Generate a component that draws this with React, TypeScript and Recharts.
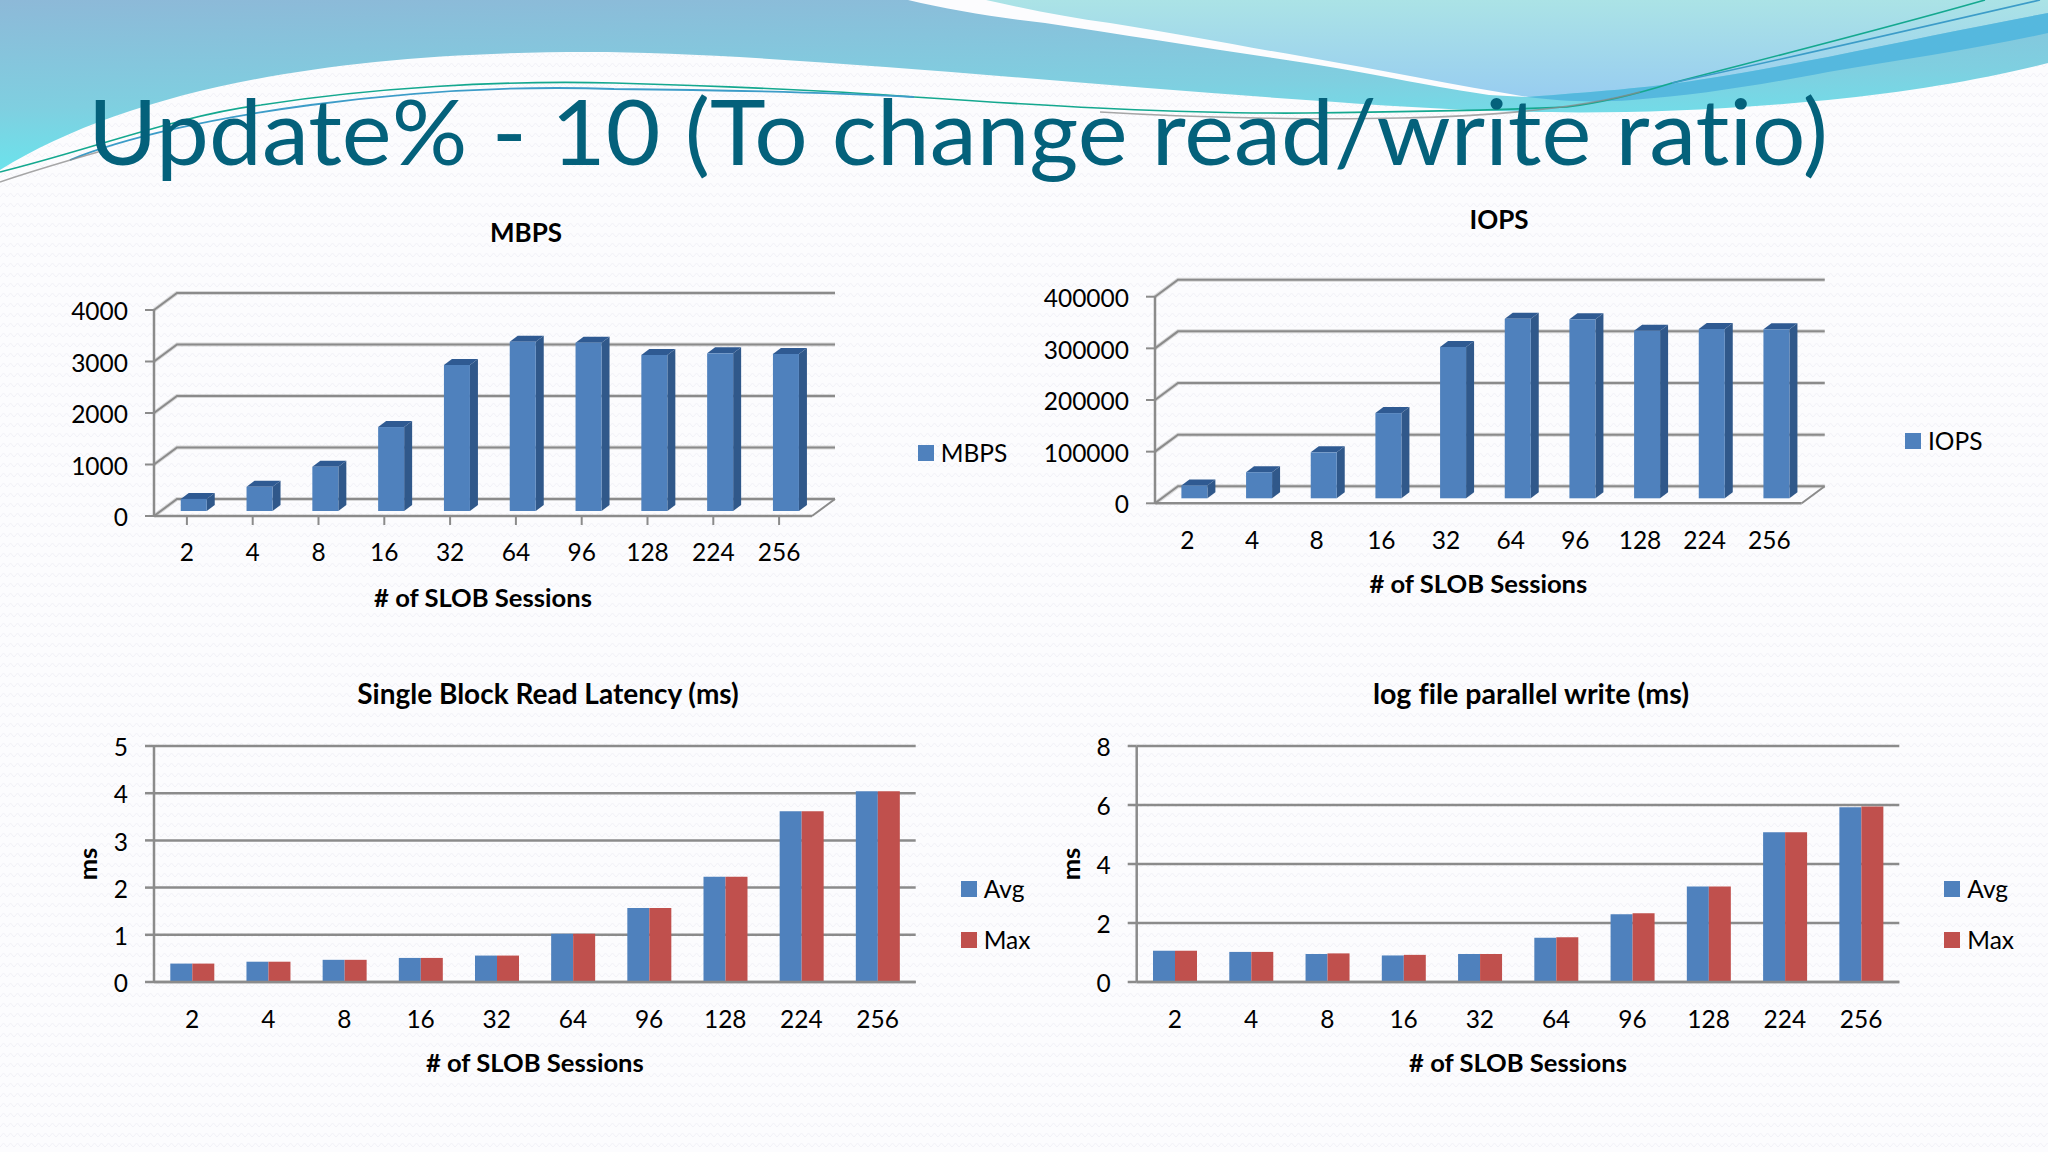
import { BarChart, Bar, XAxis, YAxis, CartesianGrid, Legend } from "recharts";

const sessions = ["2", "4", "8", "16", "32", "64", "96", "128", "224", "256"];

const mbps = [235, 470, 860, 1630, 2835, 3287, 3268, 3029, 3062, 3049];
const iops = [25000, 50500, 89000, 165000, 293000, 347500, 346600, 324500, 327800, 327200];
const readAvg = [0.39, 0.43, 0.47, 0.51, 0.56, 1.02, 1.57, 2.23, 3.62, 4.04];
const readMax = [0.39, 0.43, 0.47, 0.51, 0.56, 1.02, 1.57, 2.23, 3.62, 4.04];
const logAvg = [1.06, 1.02, 0.95, 0.9, 0.95, 1.5, 2.3, 3.24, 5.08, 5.92];
const logMax = [1.06, 1.02, 0.97, 0.92, 0.95, 1.52, 2.33, 3.24, 5.08, 5.95];

const mbpsTicks = [0, 1000, 2000, 3000, 4000];
const iopsTicks = [0, 100000, 200000, 300000, 400000];
const readTicks = [0, 1, 2, 3, 4, 5];
const logTicks = [0, 2, 4, 6, 8];

const FONT = "Lato, 'Noto Sans', sans-serif";
const BLUE = "#4F81BD";
const RED = "#C0504D";
const GRID = "#8b8b8b";
const TICK = { fill: "#000", fontSize: 24.5, fontFamily: FONT };
const Y_TICK = { ...TICK, dy: 1.5 };

// depth of the fake 3D box
const WALL_X = 23;
const WALL_Y = 17;
const BAR_X = 7;
const BAR_Y = 5;

function rows(series: Record<string, number[]>) {
  return sessions.map((name, i) => {
    const row: Record<string, string | number> = { name };
    Object.keys(series).forEach((k) => (row[k] = series[k][i]));
    return row;
  });
}

function WallLine(props: any) {
  const { x1, x2, y1, isFloor } = props;
  const back = y1 - WALL_Y;
  return (
    <g fill="none">
      <path d={`M${x1} ${y1}L${x1 + WALL_X} ${back}H${x2 + WALL_X}`} stroke="#b9b9b9" strokeWidth={4} opacity={0.55} />
      <path d={`M${x1} ${y1}L${x1 + WALL_X} ${back}H${x2 + WALL_X}`} stroke={GRID} strokeWidth={2} />
      {isFloor && <path d={`M${x2} ${y1}L${x2 + WALL_X} ${back}`} stroke={GRID} strokeWidth={2} />}
    </g>
  );
}

function Bar3D(props: any) {
  const { x, y, width, height, fill } = props;
  const l = x + BAR_X;
  const r = l + width;
  const t = y - BAR_Y;
  const b = t + height;
  const d = 8;
  const up = 6;
  return (
    <g>
      <polygon points={`${r},${t} ${r + d},${t - up} ${r + d},${b - up} ${r},${b}`} fill="#30588A" />
      <polygon points={`${l},${t} ${l + d},${t - up} ${r + d},${t - up} ${r},${t}`} fill="#2F5A92" />
      <rect x={l} y={t} width={width} height={height} fill={fill} />
    </g>
  );
}

function SideLegend(props: any) {
  return (
    <div style={{ fontFamily: FONT, fontSize: 24.5, color: "#000" }}>
      {props.payload.map((item: any) => (
        <div key={item.value} style={{ display: "flex", alignItems: "center", height: 24, marginBottom: 27 }}>
          <span style={{ width: 16, height: 16, background: item.color, marginRight: 7 }} />
          <span>{item.value}</span>
        </div>
      ))}
    </div>
  );
}

function Title(props: { x: number; y: number; size: number; children: string }) {
  return (
    <text
      x={props.x}
      y={props.y}
      textAnchor="middle"
      dominantBaseline="central"
      fontFamily={FONT}
      fontSize={props.size}
      fontWeight={700}
      fill="#000"
      style={{ fontVariantLigatures: "none" }}
    >
      {props.children}
    </text>
  );
}

const axisLabel = (offset: number) => ({
  value: "# of SLOB Sessions",
  position: "insideBottom" as const,
  offset,
  fill: "#000",
  fontSize: 25.6,
  fontWeight: 700,
  fontFamily: FONT,
});

function Chart3D(props: any) {
  const { left, top, width, height, plot, data, dataKey, name, ticks, title, titleX, titleY, legendX, legendY, tickMarks, labelOffset } = props;
  return (
    <div style={{ position: "absolute", left, top }}>
      <BarChart width={width} height={height} data={rows({ [dataKey]: data })} margin={{ top: plot.top, right: plot.right, left: 0, bottom: 0 }} barCategoryGap="30%">
        <CartesianGrid vertical={false} horizontal={(p: any) => <WallLine key={p.key} {...p} isFloor={p.y1 > plot.top + 200} />} />
        <XAxis
          dataKey="name"
          interval={0}
          height={plot.bottom}
          tick={TICK}
          tickLine={tickMarks ? { stroke: GRID, strokeWidth: 2 } : false}
          tickSize={tickMarks ? 9 : 0}
          tickMargin={tickMarks ? 19 : 28}
          axisLine={{ stroke: GRID, strokeWidth: 2.5 }}
          label={axisLabel(labelOffset)}
        />
        <YAxis
          width={plot.left}
          domain={[0, ticks[ticks.length - 1]]}
          ticks={ticks}
          interval={0}
          tick={Y_TICK}
          tickSize={9}
          tickMargin={17}
          tickLine={{ stroke: GRID, strokeWidth: 2 }}
          axisLine={{ stroke: GRID, strokeWidth: 2.5 }}
        />
        <Bar dataKey={dataKey} name={name} fill={BLUE} shape={Bar3D} isAnimationActive={false} />
        <Legend
          layout="vertical"
          align="center"
          verticalAlign="middle"
          wrapperStyle={{ left: legendX, top: legendY, width: "auto" }}
          content={SideLegend}
        />
        <Title x={titleX} y={titleY} size={26}>{title}</Title>
      </BarChart>
    </div>
  );
}

function Chart2D(props: any) {
  const { left, top, width, height, plot, avg, max, ticks, title, titleX, titleY, titleSize, legendX, legendY, msDx } = props;
  return (
    <div style={{ position: "absolute", left, top }}>
      <BarChart width={width} height={height} data={rows({ Avg: avg, Max: max })} margin={{ top: plot.top, right: plot.right, left: 0, bottom: 0 }} barCategoryGap="21.4%" barGap={0}>
        <CartesianGrid vertical={false} stroke={GRID} strokeWidth={2.5} />
        <XAxis
          dataKey="name"
          interval={0}
          height={plot.bottom}
          tick={TICK}
          tickLine={false}
          tickSize={0}
          tickMargin={29}
          axisLine={{ stroke: GRID, strokeWidth: 2.5 }}
          label={axisLabel(28)}
        />
        <YAxis
          width={plot.left}
          domain={[0, ticks[ticks.length - 1]]}
          ticks={ticks}
          interval={0}
          tick={Y_TICK}
          tickSize={9}
          tickMargin={17}
          tickLine={{ stroke: GRID, strokeWidth: 2.5 }}
          axisLine={{ stroke: GRID, strokeWidth: 2.5 }}
          label={{ value: "ms", angle: -90, position: "center", dx: msDx, fill: "#000", fontSize: 25.6, fontWeight: 700, fontFamily: FONT }}
        />
        <Bar dataKey="Avg" fill={BLUE} isAnimationActive={false} />
        <Bar dataKey="Max" fill={RED} isAnimationActive={false} />
        <Legend
          layout="vertical"
          align="center"
          verticalAlign="middle"
          wrapperStyle={{ left: legendX, top: legendY, width: "auto" }}
          content={SideLegend}
        />
        <Title x={titleX} y={titleY} size={titleSize}>{title}</Title>
      </BarChart>
    </div>
  );
}

// faint woven texture of the slide background
function Texture() {
  return (
    <svg width={2048} height={1152} style={{ position: "absolute", left: 0, top: 0 }}>
      <defs>
        <pattern id="weave" width={14} height={10} patternUnits="userSpaceOnUse">
          <path d="M0 7L3.5 3L7 7L10.5 3L14 7" fill="none" stroke="#f1f1f7" strokeWidth={1} />
        </pattern>
      </defs>
      <rect width={2048} height={1152} fill="url(#weave)" />
    </svg>
  );
}

// slide header artwork, nothing to do with the data
function Header() {
  return (
    <svg width={2048} height={240} style={{ position: "absolute", left: 0, top: 0 }}>
      <defs>
        <linearGradient id="mainWave" x1="0" y1="0" x2="0.25" y2="1">
          <stop offset="0" stopColor="#8DB9D8" />
          <stop offset="0.6" stopColor="#7FCFE0" />
          <stop offset="1" stopColor="#68E6EE" />
        </linearGradient>
        <linearGradient id="lightWave" x1="0" y1="0" x2="0" y2="1">
          <stop offset="0" stopColor="#ABE3E6" />
          <stop offset="1" stopColor="#98CDF0" />
        </linearGradient>
      </defs>
      <path
        d="M0 170C130 90 330 52 588 52C760 52 1050 82 1306 100C1450 110 1600 122 1828 100C1910 92 1990 78 2048 63V0H0Z"
        fill="url(#mainWave)"
      />
      <path d="M908 0C950 10 1000 18 1045 23C1130 36 1220 50 1306 63C1380 75 1440 88 1489 95L1528 97V0Z" fill="#fcfcfe" />
      <path d="M986 0C1030 10 1070 18 1110 23C1180 34 1240 46 1306 57C1380 70 1460 86 1528 97C1590 92 1650 88 1698 80C1750 72 1790 64 1828 57C1900 42 1980 26 2048 13V0Z" fill="url(#lightWave)" />
      <path d="M1528 97C1590 92 1650 88 1698 80C1750 72 1790 64 1828 57C1900 42 1980 26 2048 13V33C1980 48 1900 60 1828 72C1760 85 1700 95 1632 100C1590 103 1560 101 1528 97Z" fill="#55B8DE" />
      <g fill="none">
        <path d="M0 172C90 150 180 115 261 105C370 88 500 80 614 83C720 86 820 90 914 97C1050 106 1180 114 1306 113C1400 112 1500 110 1567 107C1600 103 1640 93 1672 83C1760 60 1880 30 1985 0" stroke="#14A88F" strokeWidth={1.6} />
        <path d="M1672 83C1780 60 1910 30 2040 0" stroke="#3C9CC8" strokeWidth={1.6} />
        <path d="M70 160C180 115 420 82 614 89C720 90 820 92 914 97" stroke="#3C9CC8" strokeWidth={1.8} />
        <path d="M0 182C35 170 70 160 105 150" stroke="#8a8a8a" strokeWidth={1.4} opacity={0.75} />
        <path d="M1100 112C1200 118 1320 120 1400 118C1500 116 1580 108 1640 92" stroke="#8a8a8a" strokeWidth={1.6} opacity={0.75} />
      </g>
      <text
        x={88}
        y={165}
        fontFamily={FONT}
        fontSize={92}
        fill="#04617B"
        textLength={1740}
        lengthAdjust="spacingAndGlyphs"
        style={{ fontVariantLigatures: "none" }}
      >
        Update% - 10 (To change read/write ratio)
      </text>
    </svg>
  );
}

export default function App() {
  return (
    <div style={{ position: "absolute", left: 0, top: 0, width: 2048, height: 1152, background: "#fcfcfe", overflow: "hidden" }}>
      <Texture />
      <Header />
      <Chart3D
        left={50} top={200} width={960} height={430}
        plot={{ top: 110, right: 198, left: 104, bottom: 114 }}
        data={mbps} dataKey="mbps" name="MBPS" ticks={mbpsTicks} title="MBPS"
        titleX={476} titleY={32} legendX={867.7} legendY={240.7} tickMarks labelOffset={23}
      />
      <Chart3D
        left={1040} top={190} width={1000} height={430}
        plot={{ top: 106.7, right: 238.3, left: 115, bottom: 116.7 }}
        data={iops} dataKey="iops" name="IOPS" ticks={iopsTicks} title="IOPS"
        titleX={459} titleY={29.4} legendX={865} legendY={238.7} tickMarks={false} labelOffset={27}
      />
      <Chart2D
        left={50} top={660} width={960} height={440}
        plot={{ top: 86, right: 94.3, left: 104, bottom: 118 }}
        avg={readAvg} max={readMax} ticks={readTicks} title="Single Block Read Latency (ms)" titleSize={28}
        titleX={498} titleY={32.5} legendX={910.7} legendY={216.7} msDx={-14}
      />
      <Chart2D
        left={1040} top={660} width={1000} height={440}
        plot={{ top: 86, right: 140.7, left: 96.7, bottom: 118 }}
        avg={logAvg} max={logMax} ticks={logTicks} title="log file parallel write (ms)" titleSize={28.6}
        titleX={491} titleY={32.5} legendX={904.3} legendY={216.7} msDx={-17.6}
      />
    </div>
  );
}
